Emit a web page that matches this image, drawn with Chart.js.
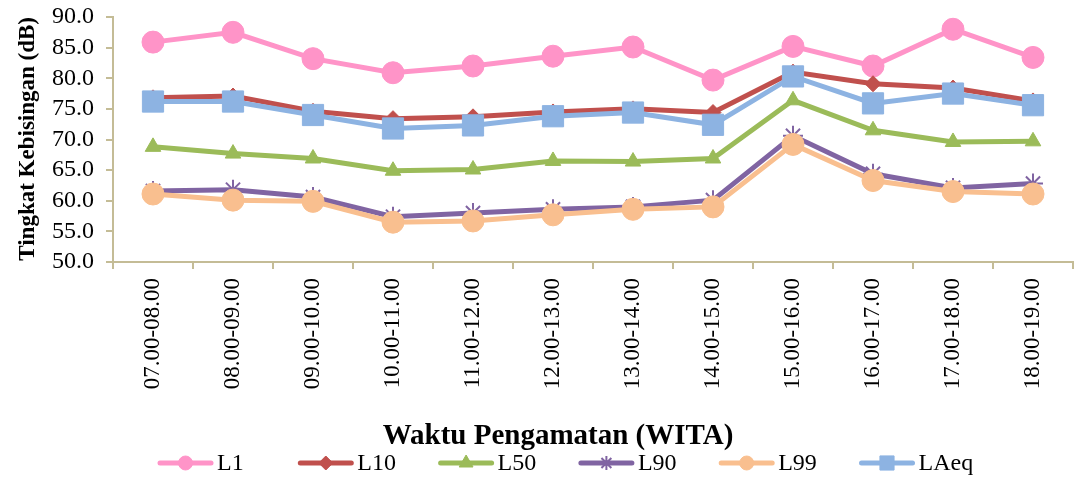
<!DOCTYPE html>
<html>
<head>
<meta charset="utf-8">
<script src="https://cdn.jsdelivr.net/npm/chart.js@4/dist/chart.umd.min.js"></script>
<style>
  html, body { margin: 0; padding: 0; background: #fff; }
</style>
</head>
<body>
<canvas id="noise-chart" width="1074" height="480"></canvas>
<script>
// Observation periods (WITA)
const periods = ['07.00-08.00', '08.00-09.00', '09.00-10.00', '10.00-11.00', '11.00-12.00', '12.00-13.00',
  '13.00-14.00', '14.00-15.00', '15.00-16.00', '16.00-17.00', '17.00-18.00', '18.00-19.00'];

// Noise levels in dB
const L1 = [85.9, 87.5, 83.2, 80.9, 82.0, 83.6, 85.1, 79.7, 85.2, 82.0, 88.0, 83.4];
const L10 = [76.8, 77.1, 74.6, 73.4, 73.7, 74.5, 75.0, 74.4, 81.0, 79.1, 78.4, 76.3];
const L50 = [68.8, 67.7, 66.9, 64.9, 65.1, 66.5, 66.4, 66.9, 76.4, 71.5, 69.6, 69.7];
const L90 = [61.6, 61.8, 60.6, 57.4, 58.0, 58.6, 59.0, 60.1, 70.6, 64.4, 62.1, 62.8];
const L99 = [61.1, 60.1, 59.9, 56.5, 56.7, 57.7, 58.6, 59.0, 69.2, 63.3, 61.5, 61.1];
const LAeq = [76.2, 76.2, 74.0, 71.8, 72.3, 73.8, 74.4, 72.4, 80.3, 75.9, 77.5, 75.6];

const yMin = 50;
const yMax = 90;
const yStep = 5;

const xTitle = 'Waktu Pengamatan (WITA)';

const serif = "'Liberation Serif', 'Times New Roman', serif";
const axisColor = '#C4BC96';

// one line series, Excel style
const series = (label, data, color, style, radius, order, legendRadius, bw = 1) => ({
  label,
  data,
  borderColor: color,
  backgroundColor: color,
  borderWidth: 5,
  tension: 0,
  pointStyle: style,
  pointRadius: radius,
  pointBorderWidth: bw,
  pointBackgroundColor: color,
  pointBorderColor: color,
  order,
  legendRadius,
});

// X title + legend (line + marker, fixed slots like Excel)
const lineLegend = {
  id: 'lineLegend',
  afterDraw(chart) {
    const { ctx } = chart;

    ctx.save();
    ctx.fillStyle = '#000';
    ctx.font = `bold 29px ${serif}`;
    ctx.textAlign = 'center';
    ctx.textBaseline = 'middle';
    ctx.fillText(xTitle, 558, 437);
    ctx.restore();

    const startX = 158;
    const slot = 140.3;
    const lineLen = 55;
    const y = 463;
    chart.data.datasets.forEach((ds, i) => {
      const x0 = startX + i * slot;
      ctx.save();
      ctx.strokeStyle = ds.borderColor;
      ctx.lineWidth = 5;
      ctx.lineCap = 'round';
      ctx.beginPath();
      ctx.moveTo(x0 + 2, y);
      ctx.lineTo(x0 + lineLen - 2, y);
      ctx.stroke();
      ctx.restore();
      ctx.save();
      ctx.fillStyle = ds.pointBackgroundColor;
      ctx.strokeStyle = ds.pointBorderColor;
      ctx.lineWidth = ds.pointBorderWidth;
      Chart.helpers.drawPoint(ctx, {
        pointStyle: ds.pointStyle,
        radius: ds.legendRadius,
        rotation: 0,
        borderWidth: ds.pointBorderWidth,
      }, x0 + lineLen / 2, y);
      ctx.restore();
      ctx.save();
      ctx.fillStyle = '#000';
      ctx.font = `24px ${serif}`;
      ctx.textBaseline = 'middle';
      ctx.textAlign = 'left';
      ctx.fillText(ds.label, x0 + lineLen + 4, y + 1);
      ctx.restore();
    });
  },
};

const ctx = document.getElementById('noise-chart');

const chart = new Chart(ctx, {
  type: 'line',
  data: {
    labels: periods,
    datasets: [
      series('L1', L1, '#FF94C8', 'circle', 11, 5, 7),
      series('L10', L10, '#C0504D', 'rectRot', 8, 4, 7),
      series('L50', L50, '#9BBB59', 'triangle', 9, 3, 8),
      series('L90', L90, '#8064A2', 'star', 10, 2, 7, 2),
      series('L99', L99, '#F9BF8F', 'circle', 11, 1, 7),
      series('LAeq', LAeq, '#8DB3E2', 'rect', 15, 0, 10),
    ],
  },
  options: {
    responsive: false,
    animation: false,
    layout: {
      autoPadding: false,
      padding: {
        top: 17,
        bottom: 0,
        left: 0,
        right: 1,
      },
    },
    scales: {
      y: {
        min: yMin,
        max: yMax,
        border: {
          color: axisColor,
          width: 2,
        },
        grid: {
          drawOnChartArea: false,
          color: axisColor,
          lineWidth: 2,
          tickLength: 7,
        },
        ticks: {
          stepSize: yStep,
          autoSkip: false,
          padding: 12,
          color: '#000',
          font: { family: serif, size: 24 },
          callback: (value) => value.toFixed(1),
        },
        title: {
          display: true,
          align: 'end',
          text: 'Tingkat Kebisingan (dB)',
          color: '#000',
          font: { family: serif, size: 23, weight: 'bold' },
          padding: { top: 14, bottom: 0 },
        },
        afterFit: (scale) => {
          scale.width = 113;
          scale.paddingTop = 0;
          scale.paddingBottom = 0;
        },
      },
      x: {
        offset: true,
        border: {
          color: axisColor,
          width: 2,
        },
        grid: {
          offset: true,
          drawOnChartArea: false,
          color: axisColor,
          lineWidth: 2,
          tickLength: 7,
        },
        ticks: {
          autoSkip: false,
          maxRotation: 90,
          minRotation: 90,
          padding: 9,
          color: '#000',
          font: { family: serif, size: 23 },
        },
        afterFit: (scale) => {
          scale.height = 218;
          scale.paddingLeft = 0;
          scale.paddingRight = 0;
        },
      },
    },
    plugins: {
      legend: {
        display: false,
      },
      tooltip: {
        enabled: false,
      },
    },
  },
  plugins: [lineLegend],
});
</script>
</body>
</html>
